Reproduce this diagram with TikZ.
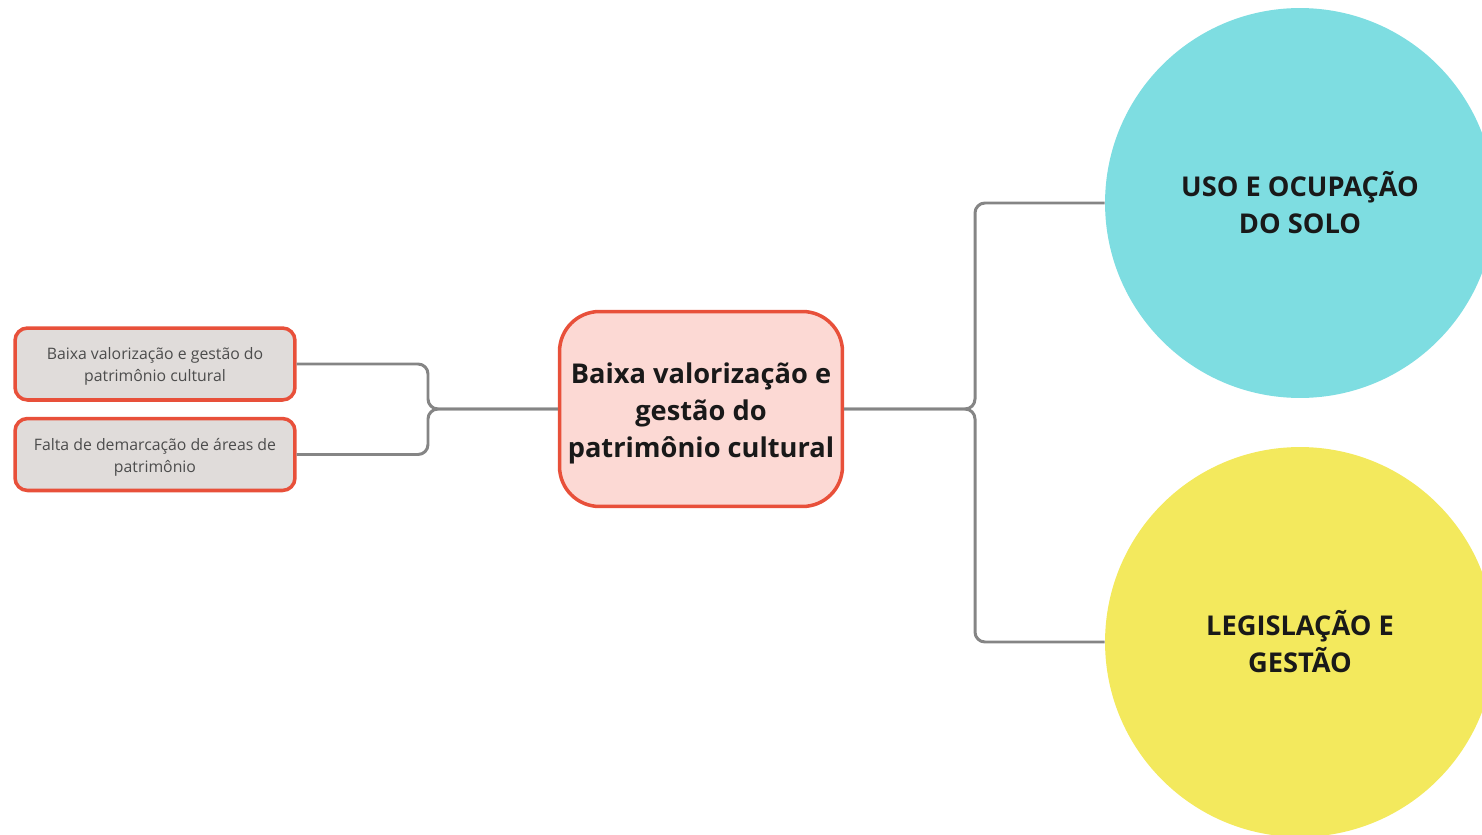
\documentclass[tikz,border=0pt]{standalone}
\usepackage{fontspec}
\setmainfont{Open Sans}
\usepackage{xcolor}
\usepackage{tikz}
\usetikzlibrary{positioning, calc}

\definecolor{edgered}{HTML}{E8503A}
\definecolor{boxgray}{HTML}{E0DCDA}
\definecolor{corepink}{HTML}{FCD9D4}
\definecolor{soilcyan}{HTML}{7EDDE1}
\definecolor{lawyellow}{HTML}{F3E95D}
\definecolor{linkgray}{HTML}{858585}

\begin{document}
\begin{tikzpicture}[x=0.02cm, y=-0.02cm,
  cause/.style={draw=edgered, line width=2pt, fill=boxgray, rounded corners=0.25cm,
    minimum width=5.6cm, minimum height=1.44cm, align=center,
    font=\fontsize{9}{12.5}\selectfont, text=black!70},
  core/.style={draw=edgered, line width=2pt, fill=corepink, rounded corners=0.8cm,
    minimum width=5.66cm, minimum height=3.9cm, align=center,
    font=\fontsize{15.5}{21}\selectfont\bfseries, text=black!90},
  theme/.style={circle, minimum size=7.8cm, inner sep=0pt, align=center,
    font=\fontsize{15.5}{21}\selectfont\bfseries, text=black!90},
  link/.style={draw=linkgray, line width=1.7pt, rounded corners=0.2cm}]
\useasboundingbox (0,0) rectangle (1482,835);
\clip (0,0) rectangle (1482,835);

\node[core] (core) at (701,409) {\rule{0pt}{16.5pt}Baixa valorização e\\gestão do\\patrimônio cultural};
\node[cause] (low) at (155,364) {\rule{0pt}{10pt}Baixa valorização e gestão do\\patrimônio cultural};
\node[cause, below=0.3cm of low] (mark) {\rule{0pt}{10pt}Falta de demarcação de áreas de\\patrimônio};
\node[theme, fill=soilcyan] (soil) at (1300,203) {USO E OCUPAÇÃO\\DO SOLO};
\node[theme, fill=lawyellow] (law) at (1300,642) {LEGISLAÇÃO E\\GESTÃO};

\coordinate (lj) at (428,409);
\coordinate (rj) at (975,409);
\draw[link] (core.west) -- (lj) |- (low.east);
\draw[link] (core.west) -- (lj) |- (mark.east);
\draw[link] (core.east) -- (rj) |- (soil.west);
\draw[link] (core.east) -- (rj) |- (law.west);
\end{tikzpicture}
\end{document}
